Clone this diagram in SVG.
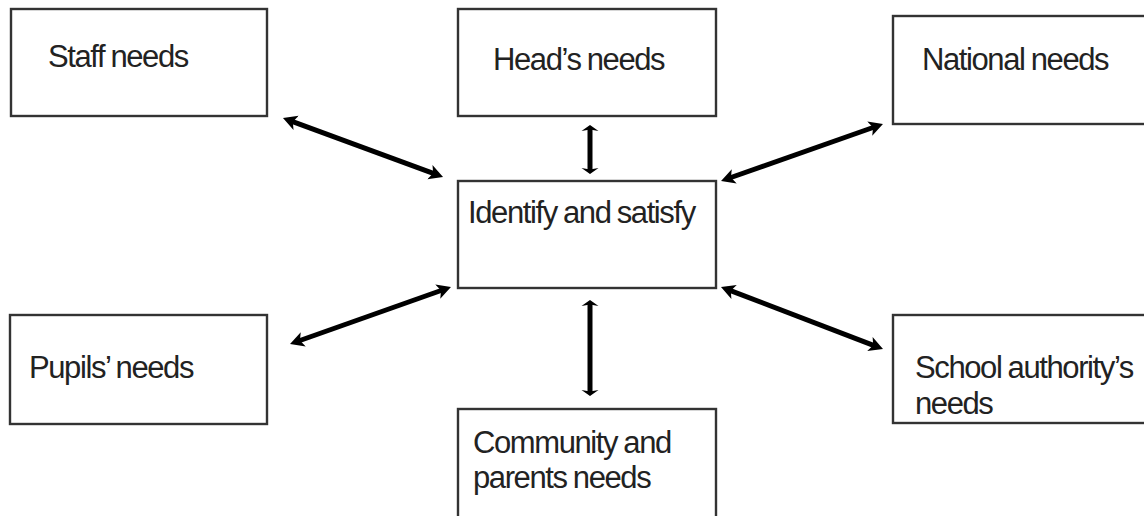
<svg xmlns="http://www.w3.org/2000/svg" width="1144" height="516" viewBox="0 0 1144 516">
<style>
.box{fill:#fff;stroke:#333;stroke-width:2.4}
.t{font-family:"Liberation Sans",Arial,sans-serif;font-size:31px;fill:#222;letter-spacing:-1.4px;word-spacing:-1px}
.c{stroke:#000;stroke-width:5;fill:none;marker-start:url(#ah);marker-end:url(#ah)}
.v{stroke:#000;stroke-width:5;fill:none;marker-start:url(#av);marker-end:url(#av)}
</style>
<defs>
<marker id="ah" markerUnits="userSpaceOnUse" markerWidth="16" markerHeight="16" viewBox="0 0 16 16" refX="8" refY="8" orient="auto-start-reverse">
<path d="M0,0.5 L14,8 L0,15.5 L3.5,8 z" fill="#000"/>
</marker>
<marker id="av" markerUnits="userSpaceOnUse" markerWidth="18" markerHeight="18" viewBox="0 0 18 18" refX="2" refY="9" orient="auto-start-reverse">
<path d="M0,0.5 L6,9 L0,17.5 L1.5,9 z" fill="#000"/>
</marker>
</defs>
<g id="staff"><rect class="box" x="11" y="9" width="256" height="107"/><text class="t" x="48" y="67">Staff needs</text></g>
<g id="head"><rect class="box" x="458" y="9" width="258" height="107"/><text class="t" x="493" y="70">Head’s needs</text></g>
<g id="national"><rect class="box" x="893" y="16" width="260" height="108"/><text class="t" x="922" y="70">National needs</text></g>
<g id="identify"><rect class="box" x="458" y="181" width="258" height="107"/><text class="t" x="468" y="223">Identify and satisfy</text></g>
<g id="pupils"><rect class="box" x="10" y="315" width="257" height="109"/><text class="t" x="29" y="378">Pupils’ needs</text></g>
<g id="school"><rect class="box" x="893" y="315" width="260" height="108"/><text class="t" x="915" y="378">School authority’s</text><text class="t" x="915" y="414">needs</text></g>
<g id="community"><rect class="box" x="458" y="409" width="258" height="120"/><text class="t" x="473" y="453">Community and</text><text class="t" x="473" y="488">parents needs</text></g>
<g id="connectors">
<line class="c" x1="288.6" y1="120.1" x2="437.4" y2="174.9"/>
<line class="c" x1="877.3" y1="126" x2="726.7" y2="179"/>
<line class="c" x1="295.7" y1="342" x2="445.3" y2="289"/>
<line class="c" x1="726.6" y1="289.1" x2="877.4" y2="346.9"/>
<line class="v" x1="590" y1="129" x2="590" y2="170"/>
<line class="v" x1="590" y1="304" x2="590" y2="392"/>
</g>
</svg>
